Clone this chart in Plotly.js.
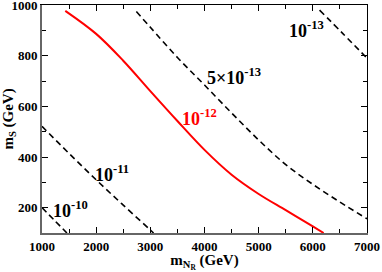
<!DOCTYPE html>
<html>
<head>
<meta charset="utf-8">
<script src="https://cdn.plot.ly/plotly-3.0.1.min.js"></script>
<style>html,body{margin:0;padding:0;background:#fff;}#chart{width:382px;height:272px;}</style>
</head>
<body>
<div id="chart"></div>
<script>
// Contours in the (m_NR, m_S) plane, both in GeV
const mN_1e10 = [1000, 1230, 1460];
const mS_1e10 = [200, 150, 100];

const mN_1e11 = [1000, 1500, 2000, 2500, 3000, 3060];
const mS_1e11 = [521, 414, 310, 210, 112, 100];

const mN_1e12 = [1430, 2000, 2500, 3000, 3500, 4000, 4500, 5000, 5500, 6000, 6200];
const mS_1e12 = [977, 886, 780, 660, 542, 428, 330, 254, 190, 126, 100];

const mN_5e13 = [2742, 3000, 3500, 4000, 4500, 5000, 5500, 6000, 6500, 7000];
const mS_5e13 = [974, 912, 793, 684, 574, 467, 370, 292, 222, 156];

const mN_1e13 = [6124, 6550, 7000];
const mS_1e13 = [980, 888, 790];

const labels = ['10<sup>-10</sup>', '10<sup>-11</sup>', '10<sup>-12</sup>', '5×10<sup>-13</sup>', '10<sup>-13</sup>'];

const xTickVals = [1000, 2000, 3000, 4000, 5000, 6000, 7000];
const yTickVals = [200, 400, 600, 800, 1000];

const FONT = 'Liberation Serif, Times New Roman, serif';
const dashed = {color: '#000', width: 1.6, dash: '6px,4px', shape: 'spline', smoothing: 1};

const traces = [
  {x: mN_1e10, y: mS_1e10, mode: 'lines', line: dashed},
  {x: mN_1e11, y: mS_1e11, mode: 'lines', line: dashed},
  {x: mN_1e12, y: mS_1e12, mode: 'lines', line: {color: '#ff0000', width: 2, shape: 'spline', smoothing: 1}},
  {x: mN_5e13, y: mS_5e13, mode: 'lines', line: dashed},
  {x: mN_1e13, y: mS_1e13, mode: 'lines', line: dashed},
  // mirror axes (top/right frame)
  {x: [1000], y: [100], xaxis: 'x2', yaxis: 'y2', mode: 'markers', marker: {opacity: 0}, hoverinfo: 'skip'}
];

function ann(i, x, y, color) {
  return {x: x, y: y, xref: 'x', yref: 'y', text: labels[i], showarrow: false,
          xanchor: 'center', yanchor: 'middle',
          font: {family: FONT, size: 18, color: color, weight: 'bold'}};
}

const tickFont = {family: FONT, size: 13, color: '#000', weight: 'bold'};

const layout = {
  width: 382, height: 272,
  margin: {l: 42, r: 15, t: 5, b: 39, pad: 0},
  paper_bgcolor: '#fff', plot_bgcolor: '#fff',
  showlegend: false,
  xaxis: {
    range: [1000, 7000], tickvals: xTickVals, ticktext: xTickVals.map(String),
    showgrid: false, zeroline: false, ticklabeloverflow: 'allow',
    ticks: 'inside', ticklen: 6, tickwidth: 1, tickcolor: '#000', tickfont: tickFont,
    minor: {ticks: 'inside', ticklen: 4, tickwidth: 1, tickcolor: '#000', dtick: 500, tick0: 1000},
    showline: true, linecolor: '#666', linewidth: 2, mirror: false,
    title: {text: 'm<sub>N<sub>R</sub></sub> (GeV)', standoff: 2, font: {family: FONT, size: 15, color: '#000', weight: 'bold'}}
  },
  yaxis: {
    range: [100, 1000], tickvals: yTickVals, ticktext: yTickVals.map(String),
    showgrid: false, zeroline: false, ticklabeloverflow: 'allow',
    ticks: 'inside', ticklen: 6, tickwidth: 1, tickcolor: '#000', tickfont: tickFont,
    minor: {ticks: 'inside', ticklen: 4, tickwidth: 1, tickcolor: '#000', dtick: 100, tick0: 0},
    showline: true, linecolor: '#666', linewidth: 2, mirror: false,
    title: {text: 'm<sub>S</sub> (GeV)', standoff: 4, font: {family: FONT, size: 15, color: '#000', weight: 'bold'}}
  },
  xaxis2: {
    overlaying: 'x', side: 'top', range: [1000, 7000], showgrid: false, zeroline: false,
    tickvals: xTickVals, showticklabels: false, ticks: 'inside', ticklen: 6, tickcolor: '#000',
    minor: {ticks: 'inside', ticklen: 4, tickcolor: '#000', dtick: 500, tick0: 1000},
    showline: true, linecolor: '#000', linewidth: 1
  },
  yaxis2: {
    overlaying: 'y', side: 'right', range: [100, 1000], showgrid: false, zeroline: false,
    tickvals: yTickVals, showticklabels: false, ticks: 'inside', ticklen: 6, tickcolor: '#000',
    minor: {ticks: 'inside', ticklen: 4, tickcolor: '#000', dtick: 100, tick0: 0},
    showline: true, linecolor: '#000', linewidth: 1
  },
  annotations: [
    ann(0, 1530, 193, '#000'),
    ann(1, 2297, 335, '#000'),
    ann(2, 3914, 555, '#ff0000'),
    ann(3, 4550, 717, '#000'),
    ann(4, 5890, 902, '#000')
  ]
};

Plotly.newPlot('chart', traces, layout, {staticPlot: true, displayModeBar: false});
</script>
</body>
</html>
